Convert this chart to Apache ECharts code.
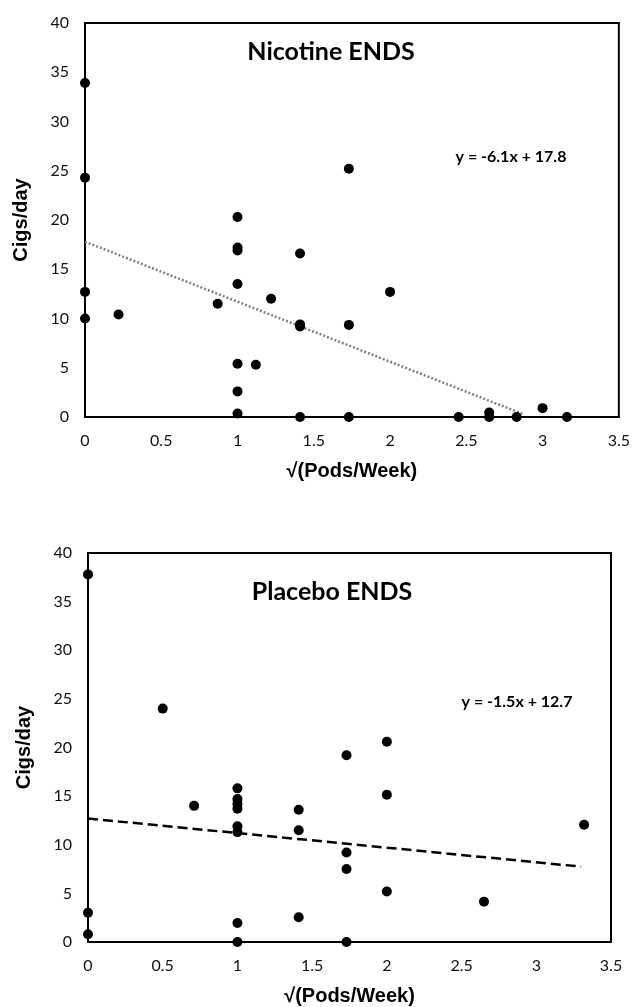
<!DOCTYPE html>
<html>
	<head>
		<meta charset="utf-8" />
		<title>Cigs/day vs Pods/Week</title>
		<script src="https://cdn.jsdelivr.net/npm/echarts@6/dist/echarts.min.js"></script>
		<style type="text/css">
			html,body{margin:0;padding:0;background:#fff;}
			#main{width:633px;height:1007px;}
		</style>
	</head>
	<body>
		<div id="main"></div>
		<script type="text/javascript">
			// tick values
			var xTicks = [0, 0.5, 1, 1.5, 2, 2.5, 3, 3.5];
			var yTicks = [0, 5, 10, 15, 20, 25, 30, 35, 40];

			// Nicotine ENDS points
			var nicX = [0, 0, 0, 0, 0.22, 0.87, 1, 1, 1, 1, 1, 1, 1, 1.12, 1.22, 1.41, 1.41, 1.41, 1.41, 1.73, 1.73, 1.73, 2, 2.45, 2.65, 2.65, 2.83, 3, 3.16];
			var nicY = [33.9, 24.3, 12.7, 10.0, 10.4, 11.5, 20.3, 17.2, 16.9, 13.5, 5.4, 2.6, 0.35, 5.3, 12.0, 16.6, 9.4, 9.2, 0, 25.2, 9.35, 0, 12.7, 0, 0.45, 0, 0, 0.9, 0];
			var nicTrendX = [0, 2.88];
			var nicTrendY = [17.8, 0.25];

			// Placebo ENDS points
			var plaX = [0, 0, 0, 0.5, 0.71, 1, 1, 1, 1, 1, 1, 1, 1, 1.41, 1.41, 1.41, 1.73, 1.73, 1.73, 1.73, 2, 2, 2, 2.65, 3.32];
			var plaY = [37.8, 3.0, 0.8, 24.0, 14.0, 15.8, 14.7, 14.2, 13.7, 11.9, 11.3, 1.95, 0, 13.6, 11.5, 2.55, 19.2, 9.2, 7.5, 0, 20.6, 15.15, 5.2, 4.15, 12.05];
			var plaTrendX = [0, 3.3];
			var plaTrendY = [12.7, 7.75];

			function pairs(xs, ys){
				var out = [];
				for (var i = 0; i < xs.length; i++) out.push([xs[i], ys[i]]);
				return out;
			}

			var tickFont = {color:'#111', fontFamily:'Lato', fontSize:16};

			function xAxisFor(idx){
				return {
					type:'value', gridIndex:idx,
					min:xTicks[0], max:xTicks[xTicks.length-1], interval:xTicks[1]-xTicks[0],
					axisLine:{show:false}, axisTick:{show:false}, splitLine:{show:false},
					axisLabel:Object.assign({margin:16, showMaxLabel:true, showMinLabel:true}, tickFont),
					name:'√(Pods/Week)', nameLocation:'middle', nameGap:44,
					nameTextStyle:{fontFamily:'Liberation Sans', fontWeight:'bold', fontSize:20, color:'#000'}
				};
			}
			function yAxisFor(idx){
				return {
					type:'value', gridIndex:idx,
					min:yTicks[0], max:yTicks[yTicks.length-1], interval:yTicks[1]-yTicks[0],
					axisLine:{show:false}, axisTick:{show:false}, splitLine:{show:false},
					axisLabel:Object.assign({margin:16}, tickFont),
					name:'Cigs/day', nameLocation:'middle', nameGap:54,
					nameTextStyle:{fontFamily:'Liberation Sans', fontWeight:'bold', fontSize:20, color:'#000'}
				};
			}

			var myChart = echarts.init(document.getElementById('main'), null, {renderer:'canvas'});
			var chartOption = {
				animation:false,
				backgroundColor:'#fff',
				grid:[
					{left:85, top:23, width:537, height:394, show:true, borderColor:'#000', borderWidth:2},
					{left:88, top:553, width:523, height:389, show:true, borderColor:'#000', borderWidth:2}
				],
				xAxis:[xAxisFor(0), xAxisFor(1)],
				yAxis:[yAxisFor(0), yAxisFor(1)],
				graphic:[
					{type:'text', x:331, y:52, style:{text:'Nicotine ENDS', font:'bold 25px Lato', fill:'#000', align:'center', verticalAlign:'middle'}},
					{type:'text', x:511, y:157, style:{text:'y = -6.1x + 17.8', font:'bold 16px Lato', fill:'#000', align:'center', verticalAlign:'middle'}},
					{type:'text', x:332, y:592, style:{text:'Placebo ENDS', font:'bold 25px Lato', fill:'#000', align:'center', verticalAlign:'middle'}},
					{type:'text', x:517, y:702, style:{text:'y = -1.5x + 12.7', font:'bold 16px Lato', fill:'#000', align:'center', verticalAlign:'middle'}}
				],
				series:[
					{
						type:'line', xAxisIndex:0, yAxisIndex:0, data:pairs(nicTrendX, nicTrendY),
						showSymbol:false, symbol:'none', lineStyle:{color:'#7f7f7f', width:2.5, type:[2,2]}, z:1
					},
					{
						type:'scatter', xAxisIndex:0, yAxisIndex:0, data:pairs(nicX, nicY),
						symbolSize:10, itemStyle:{color:'#000', opacity:1}, z:3
					},
					{
						type:'line', xAxisIndex:1, yAxisIndex:1, data:pairs(plaTrendX, plaTrendY),
						showSymbol:false, symbol:'none', lineStyle:{color:'#000', width:2.5, type:[10,5]}, z:1
					},
					{
						type:'scatter', xAxisIndex:1, yAxisIndex:1, data:pairs(plaX, plaY),
						symbolSize:10, itemStyle:{color:'#000', opacity:1}, z:3
					}
				]
			};
			myChart.setOption(chartOption);
		</script>
	</body>
</html>
